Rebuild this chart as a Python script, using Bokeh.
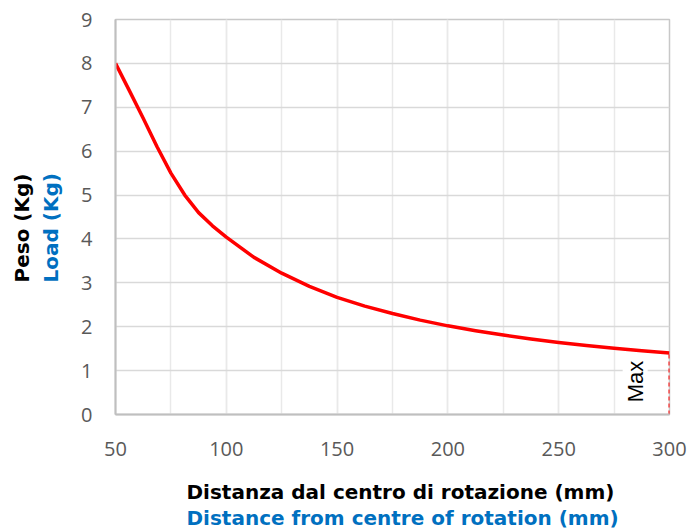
import math
from bokeh.plotting import figure
from bokeh.models import Range1d, FixedTicker, Label, Title
from bokeh.embed import file_html
from bokeh.resources import INLINE

# ---- data ----
distance = [50, 56.25, 62.5, 68.75, 75, 81.25, 87.5, 93.75, 100, 112.5, 125, 137.5,
            150, 162.5, 175, 187.5, 200, 212.5, 225, 237.5, 250, 262.5, 275, 287.5, 300]
load = [8.0, 7.38, 6.75, 6.1, 5.5, 5.0, 4.6, 4.3, 4.04, 3.58, 3.22, 2.92,
        2.67, 2.47, 2.3, 2.15, 2.02, 1.91, 1.81, 1.72, 1.64, 1.57, 1.51, 1.45, 1.4]

x_ticks = [50, 100, 150, 200, 250, 300]
x_grid = [50, 75, 100, 125, 150, 175, 200, 225, 250, 275, 300]
y_ticks = [0, 1, 2, 3, 4, 5, 6, 7, 8, 9]

y_title_it = "Peso (Kg)"
y_title_en = "Load (Kg)"
x_title_it = "Distanza dal centro di rotazione (mm)"
x_title_en = "Distance from centre of rotation (mm)"
max_text = "Max"

p = figure(width=690, height=531, output_backend="svg", toolbar_location=None,
           x_range=Range1d(x_ticks[0], x_ticks[-1]), y_range=Range1d(y_ticks[0], y_ticks[-1]),
           min_border_left=115, min_border_right=21, min_border_top=19, min_border_bottom=117)

p.background_fill_color = "white"
p.border_fill_color = "white"
p.outline_line_color = "#c8c8c8"
p.outline_line_width = 1.5

for ax in (p.xaxis, p.yaxis):
    ax.major_tick_out = 0
    ax.major_tick_in = 0
    ax.minor_tick_out = 0
    ax.minor_tick_in = 0
    ax.axis_line_color = "#bfbfbf"
    ax.axis_line_width = 2
    ax.major_label_text_font = "Open Sans"
    ax.major_label_text_font_size = "20px"
    ax.major_label_text_color = "#595959"
    # blank axis label used only as a spacer before the two-colour titles
    ax.axis_label = " "
    ax.axis_label_text_font_size = "1px"

p.xaxis.ticker = FixedTicker(ticks=x_ticks, minor_ticks=x_grid)
p.yaxis.ticker = FixedTicker(ticks=y_ticks)
p.xaxis.major_label_standoff = 27
p.yaxis.major_label_standoff = 23
p.xaxis.axis_label_standoff = 15
p.yaxis.axis_label_standoff = 10

p.ygrid.grid_line_color = "#d9d9d9"
p.ygrid.grid_line_width = 1.5
p.xgrid.grid_line_color = "#e9e9e9"
p.xgrid.grid_line_width = 1.5
p.xgrid.minor_grid_line_color = "#e9e9e9"
p.xgrid.minor_grid_line_width = 1.5

# Max marker (dashed vertical at the last point)
p.segment(x0=[distance[-1]], y0=[0], x1=[distance[-1]], y1=[load[-1]],
          line_color="#ff0000", line_width=2, line_dash="4 3")

p.line(distance, load, line_color="#ff0000", line_width=3.5, line_join="round")

p.add_layout(Label(x=284.5, y=0.28, text=max_text, angle=math.pi / 2,
                   text_align="left", text_baseline="middle",
                   text_font="Liberation Sans", text_font_size="22px", text_color="black",
                   background_fill_color="white"))

# axis titles (two languages, two colours)
def make_title(text, color, offset, standoff):
    return Title(text=text, align="left", offset=offset, standoff=standoff,
                 text_font="DejaVu Sans", text_font_style="bold", text_font_size="20px",
                 text_color=color)

p.add_layout(make_title(y_title_en, "#0070c0", 132, 2), "left")
p.add_layout(make_title(y_title_it, "#000000", 132, 4), "left")
p.add_layout(make_title(x_title_it, "#000000", 71, 0), "below")
p.add_layout(make_title(x_title_en, "#0070c0", 71, 0), "below")

open("out.html", "w").write(file_html(p, INLINE))
